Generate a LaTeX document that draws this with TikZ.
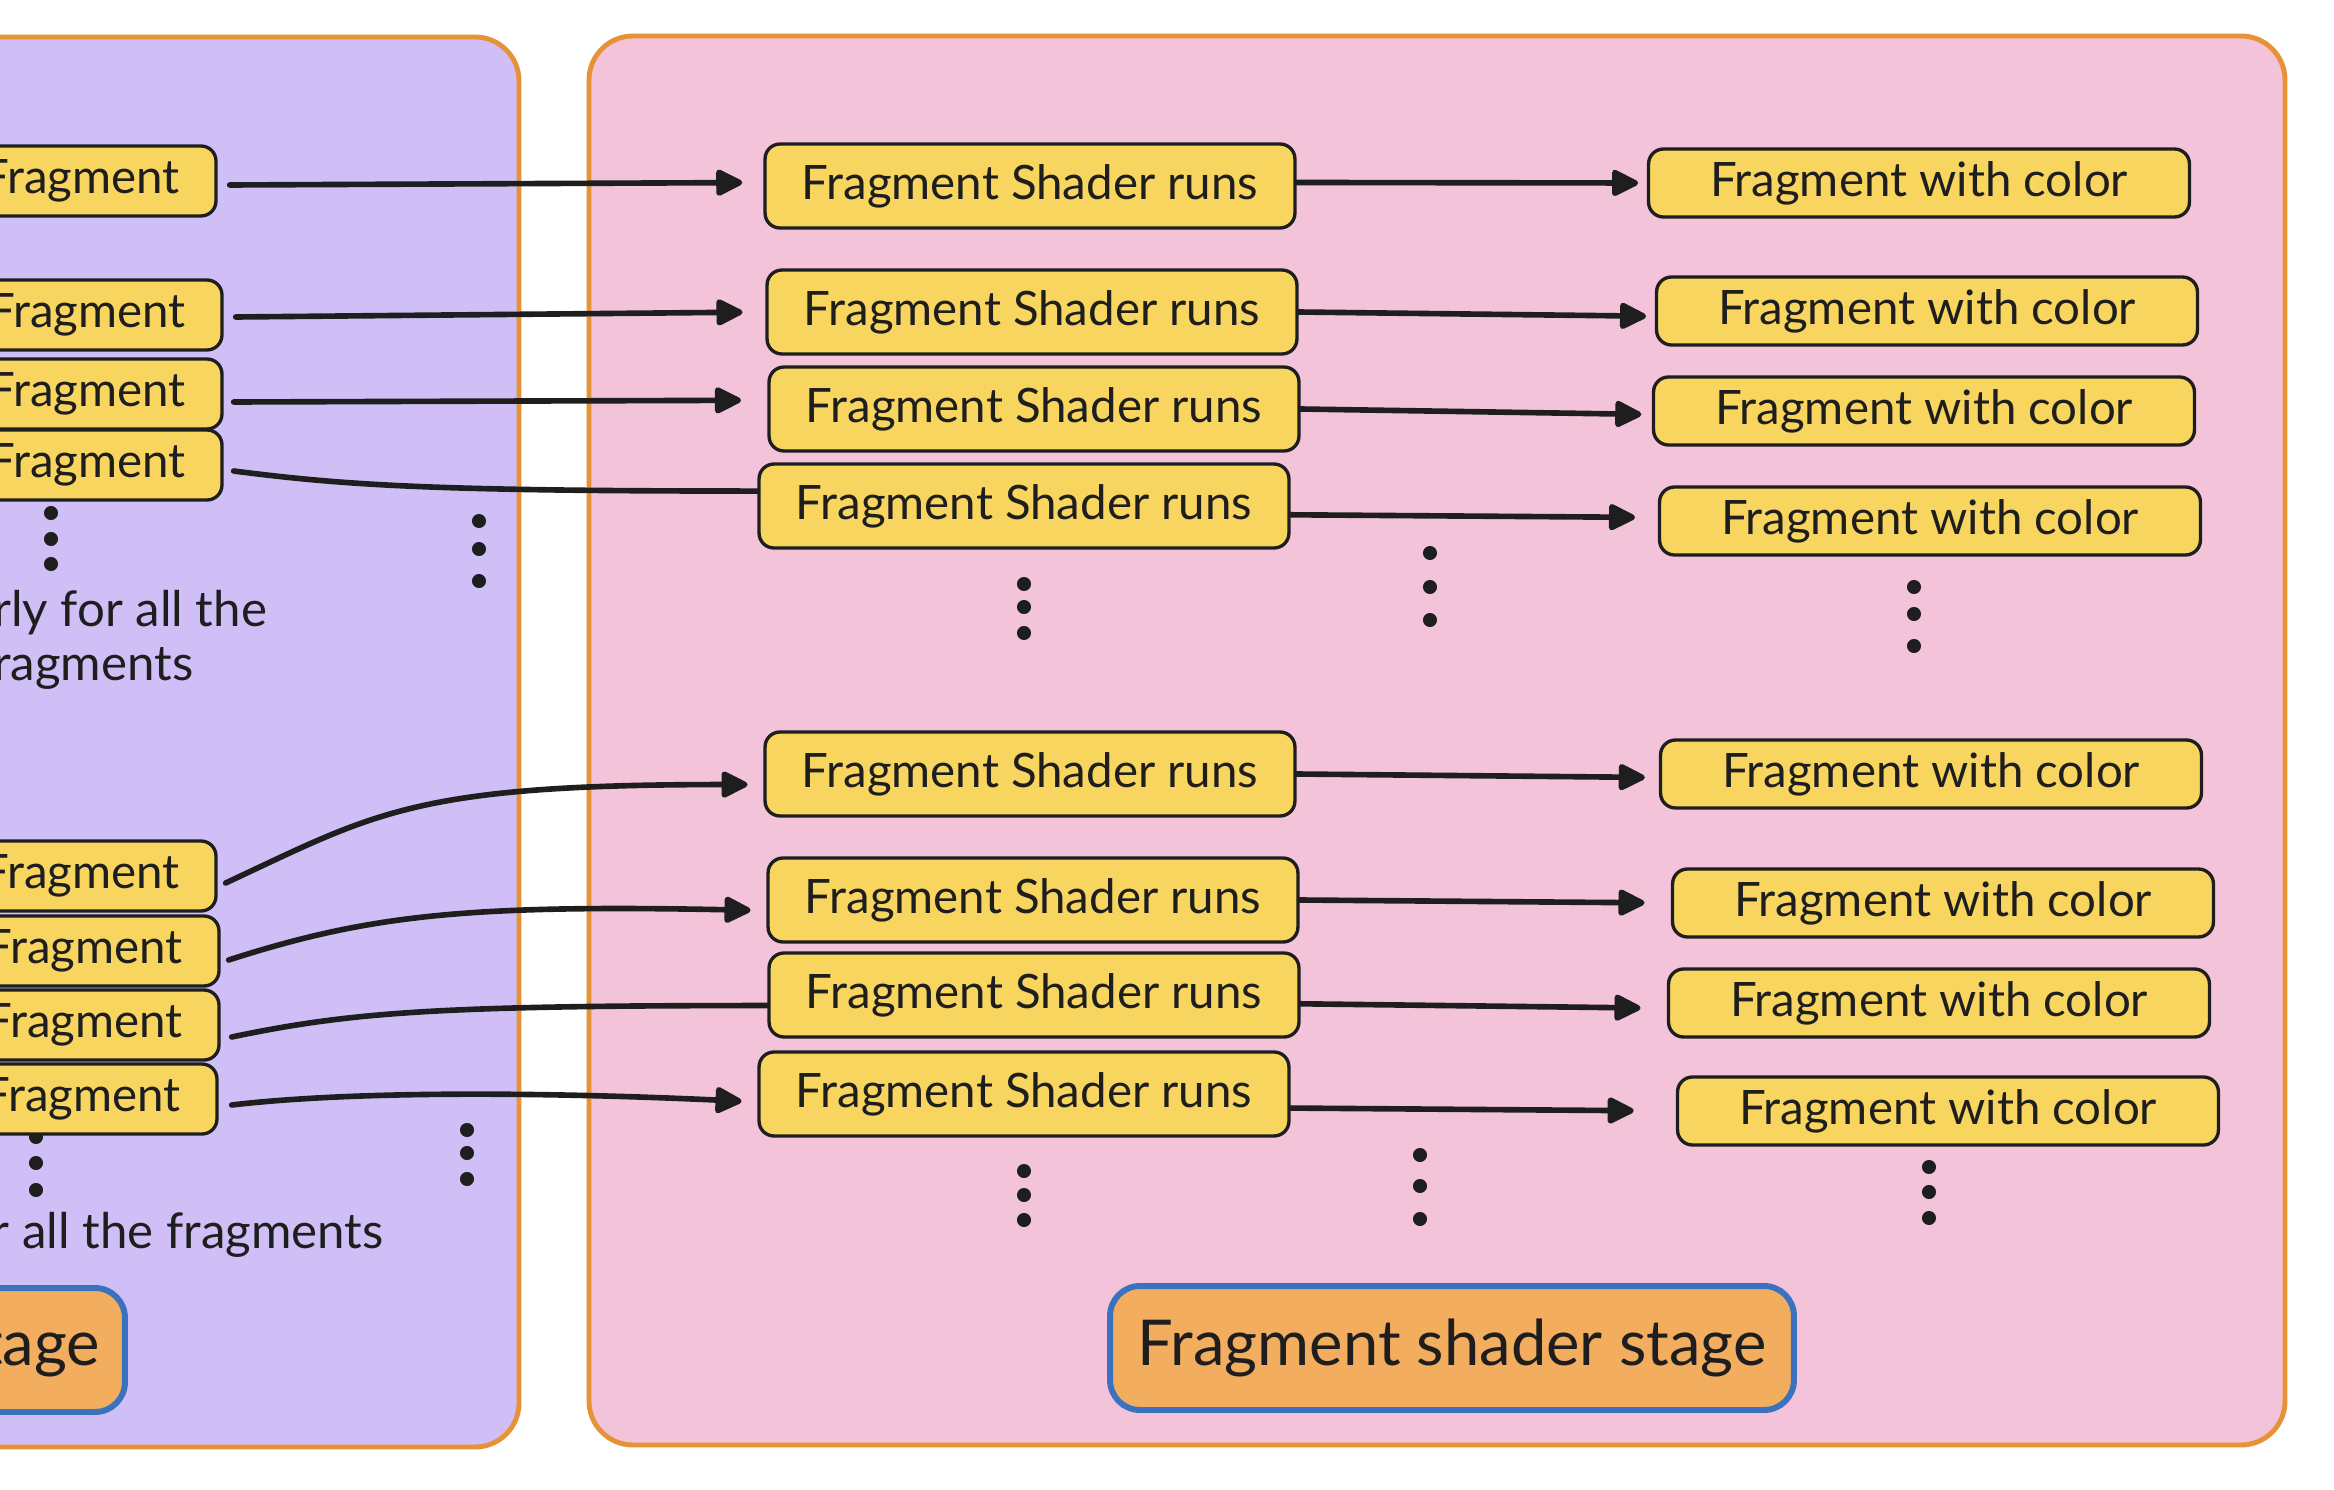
\documentclass[tikz,border=0pt]{standalone}
\usepackage{fontspec}
\setmainfont{Lato}
\usetikzlibrary{arrows.meta}
\definecolor{lav}{HTML}{D0BFF7}
\definecolor{pnk}{HTML}{F3C3D9}
\definecolor{yel}{HTML}{F7D55F}
\definecolor{orng}{HTML}{E69236}
\definecolor{lbl}{HTML}{F2AD5F}
\definecolor{blu}{HTML}{3A72C0}
\definecolor{ink}{HTML}{1E1E1E}
\begin{document}
\begin{tikzpicture}[x=0.02cm,y=-0.02cm,
  panel/.style={draw=orng, line width=2.8pt, rounded corners=25pt},
  frag/.style={draw=ink, fill=yel, line width=1.9pt, rounded corners=8.5pt, inner sep=0pt,
    text=ink, font=\fontsize{27}{32}\selectfont},
  lnode/.style={frag, minimum width=5.4cm, minimum height=1.4cm},
  fsr/.style={frag, minimum width=10.6cm, minimum height=1.68cm},
  fwc/.style={frag, minimum width=10.82cm, minimum height=1.36cm},
  stagebox/.style={draw=blu, fill=lbl, line width=3.4pt, rounded corners=17pt, inner sep=0pt,
    text=ink, font=\fontsize{36}{42}\selectfont, minimum height=2.48cm},
  txt/.style={text=ink, inner sep=0pt, font=\fontsize{28}{31}\selectfont},
  conn/.style={draw=ink, line width=3.2pt, line cap=round},
  arr/.style={conn, -{Triangle[length=17pt,width=16pt,round]}},
  dotc/.style={fill=ink}]
\useasboundingbox (0,0) rectangle (2334,1490);
\fill[white] (0,0) rectangle (2334,1490);
% panels
\draw[panel, fill=lav] (-80,37) rectangle (519,1447);
\draw[panel, fill=pnk] (589,36) rectangle (2285,1445);
% left fragments
\node[lnode] (L1) at (81,181) {Fragment};
\node[lnode] (L2) at (87,315) {Fragment};
\node[lnode] (L3) at (87,394) {Fragment};
\node[lnode] (L4) at (87,465) {Fragment};
\node[lnode] (L5) at (81,876) {Fragment};
\node[lnode] (L6) at (84,951) {Fragment};
\node[lnode] (L7) at (84,1025) {Fragment};
% dot partially hidden behind L8
\fill[dotc] (36,1137) circle (4pt);
\node[lnode] (L8) at (82,1099) {Fragment};
% middle nodes
\node[fsr] (A1) at (1030,186) {Fragment Shader runs};
\node[fsr] (A2) at (1032,312) {Fragment Shader runs};
\node[fsr] (A3) at (1034,409) {Fragment Shader runs};
\node[fsr] (A4) at (1024,506) {Fragment Shader runs};
\node[fsr] (A5) at (1030,774) {Fragment Shader runs};
\node[fsr] (A6) at (1033,900) {Fragment Shader runs};
\node[fsr] (A7) at (1034,995) {Fragment Shader runs};
\node[fsr] (A8) at (1024,1094) {Fragment Shader runs};
% right nodes
\node[fwc] (B1) at (1919,183) {Fragment with color};
\node[fwc] (B2) at (1927,311) {Fragment with color};
\node[fwc] (B3) at (1924,411) {Fragment with color};
\node[fwc] (B4) at (1930,521) {Fragment with color};
\node[fwc] (B5) at (1931,774) {Fragment with color};
\node[fwc] (B6) at (1943,903) {Fragment with color};
\node[fwc] (B7) at (1939,1003) {Fragment with color};
\node[fwc] (B8) at (1948,1111) {Fragment with color};
% stage labels
\node[stagebox, minimum width=9cm, text width=8cm, align=right] (S0) at (-100,1350) {stage};
\node[stagebox, minimum width=13.68cm] (S1) at (1452,1348) {Fragment shader stage};
% texts
\node[txt, align=left, anchor=west] (T1) at (-7,640) {rly for all the\\ragments};
\node[txt, anchor=east] (T2) at (384,1235) {r all the fragments};
% connectors left -> middle
\draw[arr, shorten >=12pt] ([shift={(12,4)}]L1.east) -- ([yshift=2pt]A1.west);
\draw[arr, shorten >=13pt] ([shift={(12,2)}]L2.east) -- (A2.west);
\draw[arr, shorten >=15pt] ([shift={(10,8)}]L3.east) -- ([yshift=5pt]A3.west);
\draw[conn] ([shift={(10,6)}]L4.east) .. controls +(110,14) and +(-330,0) .. ([yshift=8.5pt]A4.west);
\draw[arr, shorten >=9pt] ([shift={(8,7)}]L5.east) .. controls +(150,-70) and +(-350,0) .. ([yshift=-6pt]A5.west);
\draw[arr, shorten >=9pt] ([shift={(8,9)}]L6.east) .. controls +(140,-45) and +(-300,-6) .. ([yshift=-6pt]A6.west);
\draw[conn] ([shift={(11,12)}]L7.east) .. controls +(120,-25) and +(-330,0) .. ([yshift=-6pt]A7.west);
\draw[arr, shorten >=9pt] ([shift={(13,6)}]L8.east) .. controls +(120,-14) and +(-220,-10) .. ([yshift=-4.5pt]A8.west);
% connectors middle -> right
\draw[arr, shorten >=5pt] ([yshift=2pt]A1.east) -- (B1.west);
\draw[arr, shorten >=5pt] (A2.east) -- ([yshift=-3pt]B2.west);
\draw[arr, shorten >=6pt] (A3.east) -- ([yshift=-2pt]B3.west);
\draw[arr, shorten >=13pt] ([yshift=-5pt]A4.east) -- ([yshift=2pt]B4.west);
\draw[arr, shorten >=8pt] (A5.east) -- ([yshift=-2pt]B5.west);
\draw[arr, shorten >=15pt] (A6.east) -- (B6.west);
\draw[arr, shorten >=15pt] ([yshift=-5pt]A7.east) -- ([yshift=-3pt]B7.west);
\draw[arr, shorten >=24pt] ([yshift=-8pt]A8.east) -- (B8.west);
% dots
\foreach \x/\a/\b/\c in {51/513/539/564, 479/521/549/581, 467/1130/1153/1179,
  1024/584/607/633, 1430/553/587/620, 1914/587/614/646,
  1024/1171/1195/1220, 1420/1155/1186/1219, 1929/1167/1192/1218}{
  \fill[dotc] (\x,\a) circle (4pt);
  \fill[dotc] (\x,\b) circle (4pt);
  \fill[dotc] (\x,\c) circle (4pt);
}
\fill[dotc] (36,1163) circle (4pt);
\fill[dotc] (36,1190) circle (4pt);
\end{tikzpicture}
\end{document}
